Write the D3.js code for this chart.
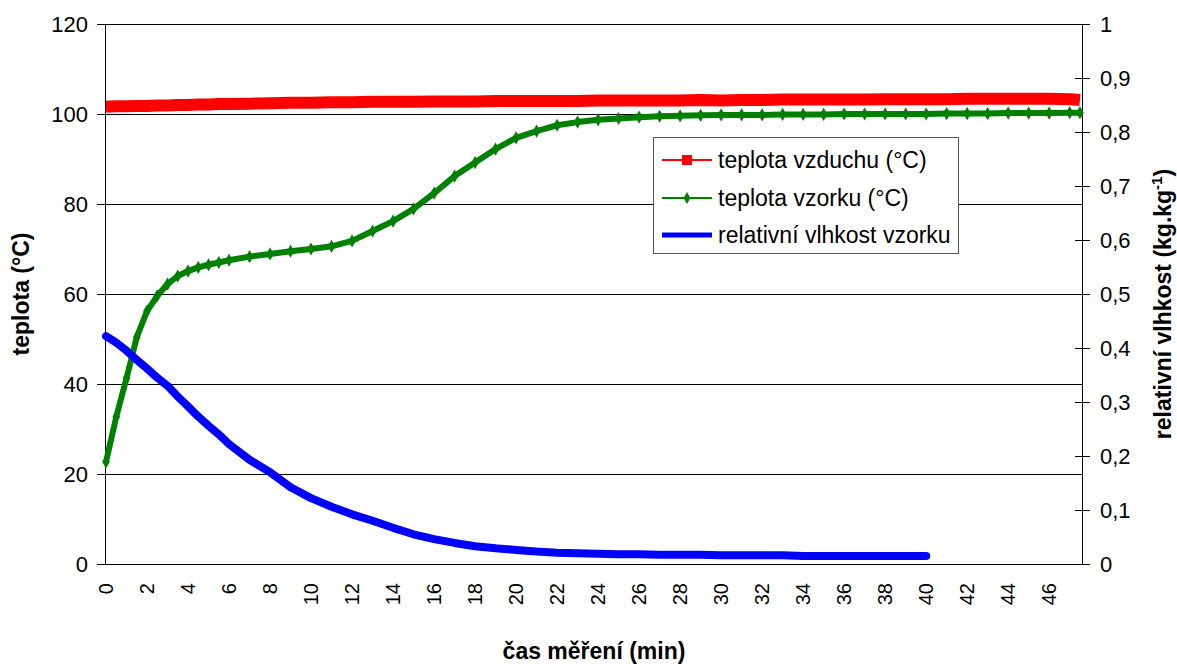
<!DOCTYPE html>
<html>
<head>
<meta charset="utf-8">
<script src="https://cdn.jsdelivr.net/npm/d3@7"></script>
<style>
body { margin: 0; background: #fff; }
text { font-family: "Liberation Sans", Arial, sans-serif; }
</style>
</head>
<body>
<svg id="chart" width="1177" height="664"></svg>
<script>
// cas mereni (min)
var cas = [0, 0.5, 1, 1.5, 2, 2.5, 3, 3.5, 4, 4.5, 5, 5.5, 6, 7, 8, 9, 10, 11, 12, 13, 14, 15,
  16, 17, 18, 19, 20, 21, 22, 23, 24, 25, 26, 27, 28, 29, 30, 31, 32, 33, 34, 35, 36, 37, 38,
  39, 40, 41, 42, 43, 44, 45, 46, 47, 47.5];

// teplota vzduchu (°C)
var vzduch = [101.6, 101.7, 101.7, 101.8, 101.8, 101.9, 101.9, 102.0, 102.0, 102.1, 102.1, 102.2,
  102.2, 102.3, 102.4, 102.5, 102.5, 102.6, 102.6, 102.7, 102.7, 102.7, 102.8, 102.8, 102.8,
  102.9, 102.9, 102.9, 102.9, 102.9, 103.0, 103.0, 103.0, 103.0, 103.0, 103.1, 103.0, 103.1,
  103.1, 103.2, 103.2, 103.2, 103.2, 103.2, 103.3, 103.3, 103.3, 103.3, 103.4, 103.4, 103.4,
  103.4, 103.4, 103.3, 103.1];

// teplota vzorku (°C)
var vzorek = [22.7, 32.7, 41.3, 50.4, 56.2, 59.6, 62.2, 64.0, 65.1, 65.9, 66.5, 67.0, 67.5,
  68.3, 68.9, 69.5, 70.0, 70.6, 71.8, 74.0, 76.2, 78.9, 82.4, 86.2, 89.2, 92.2, 94.7, 96.2,
  97.5, 98.2, 98.7, 99.0, 99.3, 99.5, 99.6, 99.7, 99.8, 99.8, 99.8, 99.9, 99.9, 99.9, 100.0,
  100.0, 100.0, 100.0, 100.0, 100.1, 100.1, 100.1, 100.2, 100.2, 100.2, 100.3, 100.3];

// relativni vlhkost vzorku (kg.kg-1), mereno do 40 min
var vlhkost = [0.422, 0.41, 0.395, 0.378, 0.362, 0.345, 0.33, 0.31, 0.292, 0.273, 0.256, 0.24,
  0.222, 0.193, 0.17, 0.142, 0.122, 0.106, 0.092, 0.08, 0.067, 0.055, 0.046, 0.039, 0.033,
  0.029, 0.026, 0.023, 0.021, 0.02, 0.019, 0.018, 0.018, 0.017, 0.017, 0.017, 0.016, 0.016,
  0.016, 0.016, 0.015, 0.015, 0.015, 0.015, 0.015, 0.015, 0.015];

var xTicks = d3.range(0, 47, 2);
var yTicks = [0, 20, 40, 60, 80, 100, 120];
var y2Ticks = [0, 0.1, 0.2, 0.3, 0.4, 0.5, 0.6, 0.7, 0.8, 0.9, 1];

// window.top is read-only, so plot edges get their own names
var pL = 105, pR = 1082, pT = 24, pB = 564;

var svg = d3.select("#chart");

var x = d3.scaleLinear().domain([0, 47.6]).range([pL + 1, pR]);
var y = d3.scaleLinear().domain([0, 120]).range([pB, pT]);
var y2 = d3.scaleLinear().domain([0, 1]).range([pB, pT]);

// gridlines
svg.append("g").selectAll("line").data(yTicks).enter().append("line")
	.attr("x1", pL - 8).attr("x2", pR)
	.attr("y1", function(d) { return y(d) + 0.5; })
	.attr("y2", function(d) { return y(d) + 0.5; })
	.attr("stroke", "#000").attr("stroke-width", 1);

// left axis
var yAxis = d3.axisLeft(y).tickValues(yTicks).tickSize(0).tickPadding(17);
var gy = svg.append("g").attr("transform", "translate(" + pL + ",0)").call(yAxis);
gy.select(".domain").attr("stroke", "#000").attr("d", "M0.5," + pT + "V" + pB);
gy.selectAll("text").attr("font-size", 22).attr("fill", "#000")
	.style("font-family", "'Liberation Sans', Arial, sans-serif");

// right axis
var y2Axis = d3.axisRight(y2).tickValues(y2Ticks).tickSize(8).tickPadding(10)
	.tickFormat(function(d) { return String(d).replace(".", ","); });
var gy2 = svg.append("g").attr("transform", "translate(" + pR + ",0)").call(y2Axis);
gy2.select(".domain").attr("stroke", "#000").attr("d", "M0.5," + pT + "V" + pB);
gy2.selectAll(".tick line").attr("x1", -7).attr("x2", 8).attr("stroke", "#000");
gy2.selectAll("text").attr("font-size", 22).attr("fill", "#000")
	.style("font-family", "'Liberation Sans', Arial, sans-serif");

// bottom + top lines
svg.append("line").attr("x1", pL - 8).attr("x2", pR + 8)
	.attr("y1", pB + 0.5).attr("y2", pB + 0.5).attr("stroke", "#000");
svg.append("line").attr("x1", pL - 8).attr("x2", pR + 8)
	.attr("y1", pT + 0.5).attr("y2", pT + 0.5).attr("stroke", "#000");

svg.append("g").selectAll("text").data(xTicks).enter().append("text")
	.attr("transform", function(d) { return "translate(" + x(d) + "," + (pB + 19) + ") rotate(-90)"; })
	.attr("text-anchor", "end").attr("dy", "0.35em")
	.attr("font-size", 20).attr("fill", "#000")
	.text(function(d) { return d; });

// series
var lineT = d3.line()
	.x(function(d, i) { return x(cas[i]); })
	.y(function(d) { return y(d); });
var lineH = d3.line()
	.x(function(d, i) { return x(cas[i]); })
	.y(function(d) { return y2(d); });

svg.append("path").datum(vzduch).attr("d", lineT)
	.attr("fill", "none").attr("stroke", "#ff0000").attr("stroke-width", 12)
	.attr("stroke-linejoin", "round");

svg.append("path").datum(vzorek).attr("d", lineT)
	.attr("fill", "none").attr("stroke", "#008000").attr("stroke-width", 6)
	.attr("stroke-linejoin", "round");
svg.append("g").selectAll("path").data(vzorek).enter().append("path")
	.attr("d", d3.symbol().type(d3.symbolDiamond).size(50))
	.attr("transform", function(d, i) { return "translate(" + x(cas[i]) + "," + y(d) + ")"; })
	.attr("fill", "#008000");

svg.append("path").datum(vlhkost).attr("d", lineH)
	.attr("fill", "none").attr("stroke", "#0000ff").attr("stroke-width", 8)
	.attr("stroke-linejoin", "round").attr("stroke-linecap", "round");

// axis titles
svg.append("text")
	.attr("transform", "translate(29," + ((pT + pB) / 2) + ") rotate(-90)")
	.attr("text-anchor", "middle").attr("font-size", 23).attr("font-weight", "bold")
	.text("teplota (°C)");

var t2 = svg.append("text")
	.attr("transform", "translate(1171," + ((pT + pB) / 2 + 10) + ") rotate(-90)")
	.attr("text-anchor", "middle").attr("font-size", 23).attr("font-weight", "bold");
t2.append("tspan").text("relativní vlhkost (kg.kg");
t2.append("tspan").attr("dy", -9).attr("font-size", 15).text("-1");
t2.append("tspan").attr("dy", 9).text(")");

svg.append("text")
	.attr("x", 594).attr("y", 659)
	.attr("text-anchor", "middle").attr("font-size", 23).attr("font-weight", "bold")
	.text("čas měření (min)");

// legend
var legend = svg.append("g");
legend.append("rect").attr("x", 653.5).attr("y", 137.5).attr("width", 305).attr("height", 116)
	.attr("fill", "#fff").attr("stroke", "#555").attr("stroke-width", 1);

var legendItems = [
	{ name: "teplota vzduchu (°C)", color: "#ff0000", w: 2, mark: "square" },
	{ name: "teplota vzorku (°C)", color: "#008000", w: 2, mark: "diamond" },
	{ name: "relativní vlhkost vzorku", color: "#0000ff", w: 5, mark: "none" }
];
var rowY = [160, 198, 235];
legendItems.forEach(function(it, i) {
	var g = legend.append("g").attr("transform", "translate(0," + rowY[i] + ")");
	g.append("line").attr("x1", 662).attr("x2", 712).attr("y1", 0).attr("y2", 0)
		.attr("stroke", it.color).attr("stroke-width", it.w);
	if (it.mark == "square")
		g.append("rect").attr("x", 682).attr("y", -5).attr("width", 10).attr("height", 10).attr("fill", it.color);
	if (it.mark == "diamond")
		g.append("path").attr("d", d3.symbol().type(d3.symbolDiamond).size(40))
			.attr("transform", "translate(687,0)").attr("fill", it.color);
	g.append("text").attr("x", 718).attr("y", 0).attr("dy", "0.35em")
		.attr("font-size", 23).attr("fill", "#000").text(it.name);
});
</script>
</body>
</html>
